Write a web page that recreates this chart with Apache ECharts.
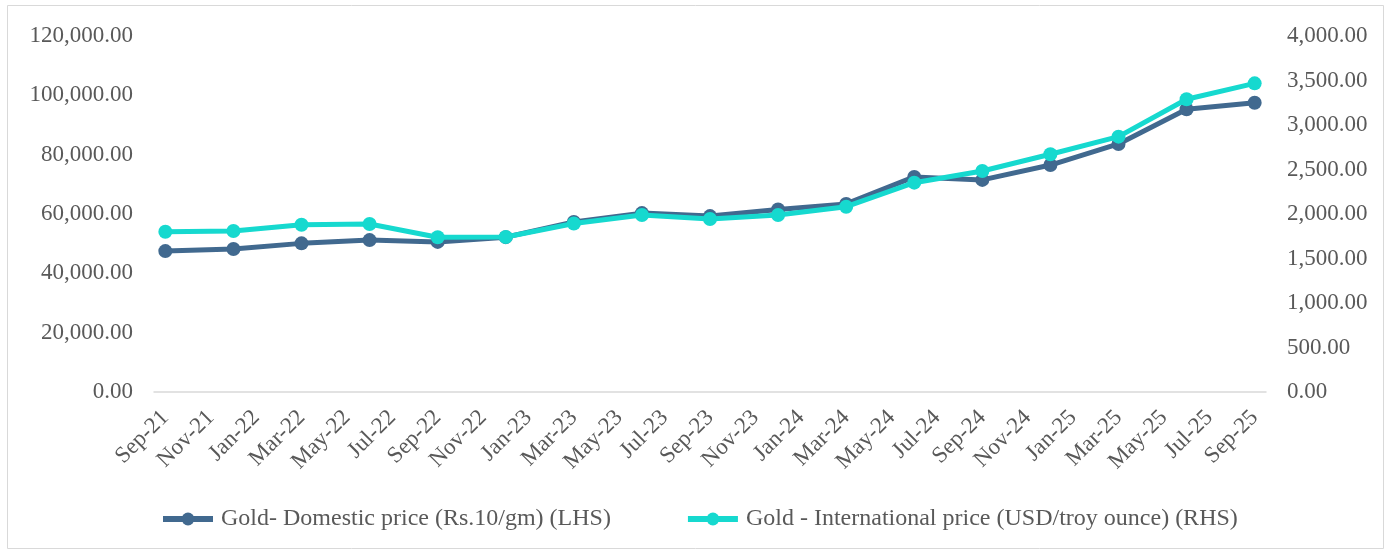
<!DOCTYPE html>
<html>
<head>
<meta charset="utf-8">
<script src="https://cdn.jsdelivr.net/npm/echarts@6/dist/echarts.min.js"></script>
<style>
  html, body { margin: 0; padding: 0; background: #fff; }
  #chart { width: 1385px; height: 550px; }
</style>
</head>
<body>
<div id="chart"></div>
<script>
// Monthly category axis, Sep-21 .. Sep-25
const months = [
  'Sep-21','Oct-21','Nov-21','Dec-21','Jan-22','Feb-22','Mar-22','Apr-22','May-22','Jun-22','Jul-22','Aug-22',
  'Sep-22','Oct-22','Nov-22','Dec-22','Jan-23','Feb-23','Mar-23','Apr-23','May-23','Jun-23','Jul-23','Aug-23',
  'Sep-23','Oct-23','Nov-23','Dec-23','Jan-24','Feb-24','Mar-24','Apr-24','May-24','Jun-24','Jul-24','Aug-24',
  'Sep-24','Oct-24','Nov-24','Dec-24','Jan-25','Feb-25','Mar-25','Apr-25','May-25','Jun-25','Jul-25','Aug-25',
  'Sep-25'
];

// Quarterly observations
const quarters = [
  'Sep-21','Dec-21','Mar-22','Jun-22','Sep-22','Dec-22','Mar-23','Jun-23','Sep-23',
  'Dec-23','Mar-24','Jun-24','Sep-24','Dec-24','Mar-25','Jun-25','Sep-25'
];

// Gold- Domestic price (Rs.10/gm)
const domesticPrice = [
  47500, 48200, 50100, 51200, 50600, 52200, 57300, 60300, 59300,
  61500, 63400, 72500, 71500, 76500, 83600, 95300, 97500
];

// Gold - International price (USD/troy ounce)
const internationalPrice = [
  1801, 1809, 1880, 1888, 1738, 1741, 1893, 1989, 1944,
  1989, 2082, 2352, 2483, 2671, 2869, 3289, 3468
];

const FONT = '"Liberation Serif", "Times New Roman", serif';
const TEXT = '#595959';
const FS = 23;
const fmt = v => v.toLocaleString('en-US', { minimumFractionDigits: 2, maximumFractionDigits: 2 });

const chart = echarts.init(document.getElementById('chart'), null, { renderer: 'canvas' });

chart.setOption({
  backgroundColor: '#fff',
  animation: false,
  graphic: [{
    type: 'rect',
    shape: { x: 7.5, y: 5.5, width: 1376, height: 543 },
    style: { fill: 'none', stroke: '#d9d9d9', lineWidth: 1 },
    silent: true
  }],
  grid: { left: 154, right: 119, top: 36, bottom: 158 },
  legend: {
    bottom: 14,
    left: 155,
    itemWidth: 50,
    itemHeight: 16,
    itemGap: 74,
    lineStyle: { width: 6 },
    textStyle: { fontFamily: FONT, fontSize: 24, color: TEXT, padding: [0, 0, 0, 3] },
    data: ['Gold- Domestic price (Rs.10/gm) (LHS)', 'Gold - International price (USD/troy ounce) (RHS)']
  },
  xAxis: {
    type: 'category',
    data: months,
    boundaryGap: true,
    axisLine: { lineStyle: { color: '#d9d9d9', width: 1.5 } },
    axisTick: { interval: 1, length: 6, lineStyle: { color: '#d9d9d9', width: 1.5 } },
    axisLabel: {
      interval: 1,
      rotate: 45,
      margin: 22,
      fontFamily: FONT,
      fontSize: FS,
      color: TEXT
    },
    splitLine: { show: false }
  },
  yAxis: [{
    type: 'value',
    min: 0, max: 120000, interval: 20000,
    axisLine: { show: false },
    axisTick: { show: false },
    splitLine: { show: false },
    axisLabel: { margin: 21, fontFamily: FONT, fontSize: FS, color: TEXT, formatter: fmt }
  }, {
    type: 'value',
    min: 0, max: 4000, interval: 500,
    axisLine: { show: false },
    axisTick: { show: false },
    splitLine: { show: false },
    axisLabel: { margin: 21, fontFamily: FONT, fontSize: FS, color: TEXT, formatter: fmt }
  }],
  series: [{
    name: 'Gold- Domestic price (Rs.10/gm) (LHS)',
    type: 'line',
    yAxisIndex: 0,
    data: quarters.map((q, i) => [q, domesticPrice[i]]),
    symbol: 'circle',
    symbolSize: 14,
    lineStyle: { width: 5, color: '#41698f' },
    itemStyle: { color: '#41698f' },
    z: 2
  }, {
    name: 'Gold - International price (USD/troy ounce) (RHS)',
    type: 'line',
    yAxisIndex: 1,
    data: quarters.map((q, i) => [q, internationalPrice[i]]),
    symbol: 'circle',
    symbolSize: 14,
    lineStyle: { width: 5, color: '#16d9cf' },
    itemStyle: { color: '#16d9cf' },
    z: 3
  }]
});
</script>
</body>
</html>
